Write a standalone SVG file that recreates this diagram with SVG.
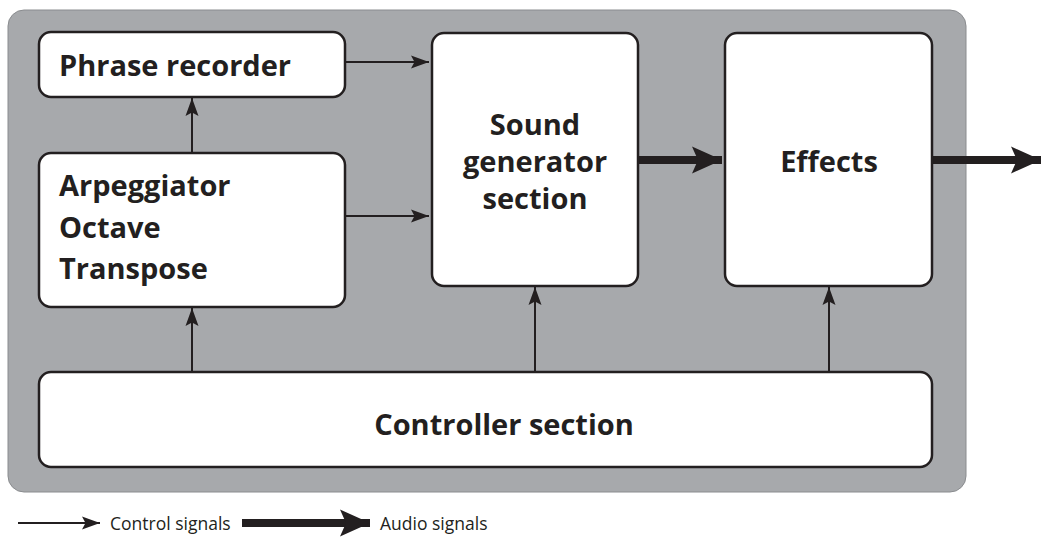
<svg xmlns="http://www.w3.org/2000/svg" width="1041" height="546" viewBox="0 0 1041 546">
<style>
.box{fill:#fff;stroke:#231f20;stroke-width:2.5}
.t{font-family:"Open Sans","Noto Sans","Liberation Sans",sans-serif;font-weight:bold;font-size:29px;fill:#231f20}
.thin{stroke:#231f20;stroke-width:2;fill:none}
.thick{stroke:#231f20;stroke-width:8;fill:none}
.lg{font-family:"Open Sans","Noto Sans","Liberation Sans",sans-serif;font-size:17.5px;fill:#231f20}
</style>
<defs>
<marker id="a" markerUnits="userSpaceOnUse" markerWidth="20" markerHeight="14" refX="18" refY="6.5" orient="auto" overflow="visible"><path d="M0,0 L18,6.5 L0,13 L3.5,6.5 Z" fill="#231f20"/></marker>
<marker id="b" markerUnits="userSpaceOnUse" markerWidth="32" markerHeight="28" refX="30" refY="13.5" orient="auto" overflow="visible"><path d="M0,0 L30,13.5 L0,27 L6,13.5 Z" fill="#231f20"/></marker>
</defs>
<rect x="8" y="10" width="958" height="482" rx="16" fill="#a7a9ac" stroke="#8a8c8f" stroke-width="1"/>
<g id="connectors">
<line class="thin" x1="345" y1="62" x2="429" y2="62" marker-end="url(#a)"/>
<line class="thin" x1="345" y1="216" x2="429" y2="216" marker-end="url(#a)"/>
<line class="thin" x1="192" y1="153" x2="192" y2="98" marker-end="url(#a)"/>
<line class="thin" x1="192" y1="372" x2="192" y2="308" marker-end="url(#a)"/>
<line class="thin" x1="535" y1="372" x2="535" y2="287" marker-end="url(#a)"/>
<line class="thin" x1="829" y1="372" x2="829" y2="287" marker-end="url(#a)"/>
<line class="thick" x1="638" y1="160" x2="722" y2="160" marker-end="url(#b)"/>
<line class="thick" x1="932" y1="160" x2="1041" y2="160" marker-end="url(#b)"/>
</g>
<g id="phrase">
<rect class="box" x="39" y="32" width="306" height="65" rx="12"/>
<text class="t" x="59" y="76">Phrase recorder</text>
</g>
<g id="arp">
<rect class="box" x="39" y="153" width="306" height="154" rx="12"/>
<text class="t" x="59" y="196">Arpeggiator</text>
<text class="t" x="59" y="238">Octave</text>
<text class="t" x="59" y="279">Transpose</text>
</g>
<g id="sound">
<rect class="box" x="432" y="33" width="206" height="253" rx="12"/>
<text class="t" x="535" y="135" text-anchor="middle">Sound</text>
<text class="t" x="535" y="172" text-anchor="middle">generator</text>
<text class="t" x="535" y="209" text-anchor="middle">section</text>
</g>
<g id="effects">
<rect class="box" x="725" y="33" width="207" height="253" rx="12"/>
<text class="t" x="829" y="172" text-anchor="middle">Effects</text>
</g>
<g id="controller">
<rect class="box" x="39" y="372" width="893" height="95" rx="12"/>
<text class="t" x="504" y="435" text-anchor="middle" font-size="32">Controller section</text>
</g>
<g id="legend">
<line class="thin" x1="18" y1="523" x2="100" y2="523" marker-end="url(#a)"/>
<text class="lg" x="110" y="530">Control signals</text>
<line class="thick" x1="242" y1="523" x2="370" y2="523" marker-end="url(#b)"/>
<text class="lg" x="380" y="530">Audio signals</text>
</g>
</svg>
